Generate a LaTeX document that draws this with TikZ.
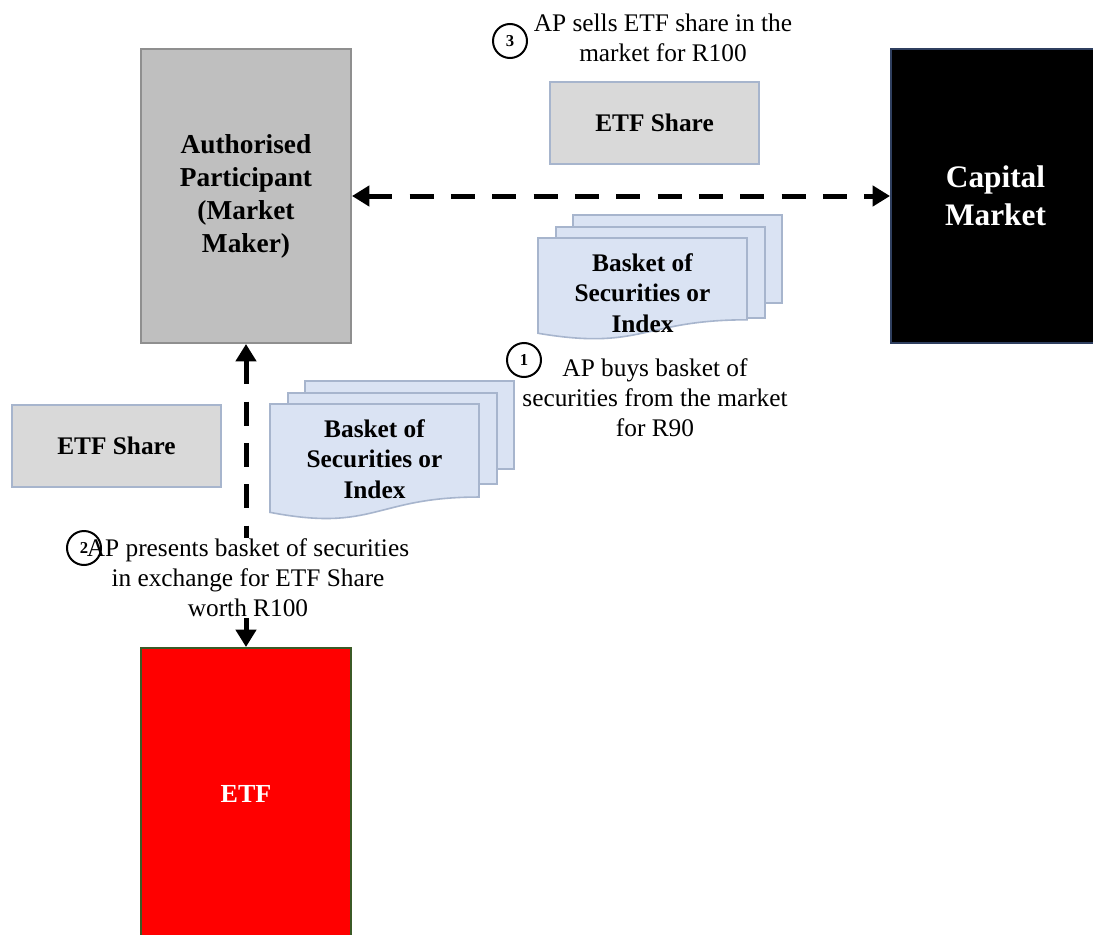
\documentclass[tikz,border=0pt]{standalone}
\usepackage{fontspec}
\setmainfont{Liberation Serif}
\usepackage{xcolor}
\usepackage{tikz}
\usetikzlibrary{arrows.meta}

\definecolor{apgray}{HTML}{BFBFBF}
\definecolor{apedge}{HTML}{8F8F8F}
\definecolor{sharegray}{HTML}{D9D9D9}
\definecolor{sheetblue}{HTML}{DAE3F3}
\definecolor{sheetedge}{HTML}{A7B5CD}
\definecolor{mktedge}{HTML}{2F3F5F}
\definecolor{etfedge}{HTML}{3B5A26}

\tikzset{
  box/.style={draw, line width=1.5pt, align=center, inner sep=0pt,
    font=\bfseries\fontsize{19}{24.75}\selectfont},
  tallbox/.style={box, minimum width=157.5pt, minimum height=220.5pt},
  sharebox/.style={box, fill=sharegray, draw=sheetedge, minimum width=156.75pt, minimum height=61.5pt},
  sheet/.style={draw=sheetedge, fill=sheetblue, line width=1.2pt},
  basketlabel/.style={align=center, font=\bfseries\fontsize{19}{23}\selectfont},
  note/.style={align=center, inner sep=1pt, font=\fontsize{19}{22.5}\selectfont},
  stepno/.style={circle, draw, line width=1.5pt, minimum size=25.5pt, inner sep=0pt,
    font=\bfseries\fontsize{12.5}{12.5}\selectfont},
  flow/.style={line width=3.75pt, dash pattern=on 18pt off 13pt,
    {Triangle[length=13pt,width=15pt]}-{Triangle[length=13pt,width=15pt]}}
}

% three stacked sheets: name, x, y, height of the front sheet
\newcommand{\basket}[4]{%
  \begin{scope}[shift={(#2,#3)}]
    \draw[sheet] (35,-23) rectangle (244,65);
    \draw[sheet] (18,-11) rectangle (227,80);
    \draw[sheet] (0,0) -- (209,0) -- (209,#4*0.802)
      .. controls (104.5,#4*0.802) and (104.5,#4*1.107) .. (0,#4*0.934) -- cycle;
    \node[basketlabel] (#1) at (104.5,55) {Basket of\\Securities or\\Index};
  \end{scope}}

\begin{document}
\begin{tikzpicture}[x=0.75pt, y=-0.75pt]
  \clip (0,0) rectangle (1093,935);
  \fill[white] (0,0) rectangle (1093,935);

  % Main boxes
  \node[tallbox, fill=apgray, draw=apedge, font=\bfseries\fontsize{20.5}{24.75}\selectfont] (ap) at (246,196)
    {Authorised\\Participant\\(Market\\Maker)};
  \node[tallbox, fill=black, draw=mktedge, text=white, minimum width=156.75pt,
    font=\bfseries\fontsize{23.5}{28.5}\selectfont] (capmkt) at (995.5,196) {Capital\\Market};
  \node[tallbox, fill=red, draw=etfedge, text=white, minimum height=219pt,
    font=\bfseries\fontsize{19.5}{24}\selectfont] (etf) at (246,794) {ETF};

  % ETF shares
  \node[sharebox] (shareTop) at (654.5,123) {ETF Share};
  \node[sharebox] (shareLeft) at (116.5,445.5) {ETF Share};

  % Baskets of securities
  \basket{basketTop}{538}{238}{102}
  \basket{basketLow}{270}{404}{116}

  % Flows
  \draw[flow] (ap.east) -- (capmkt.west);
  \draw[flow] (ap.south) -- (etf.north);

  % Step 1
  \node[note] (buyNote) at (655,397.5) {AP buys basket of\\securities from the market\\for R90};
  \node[stepno] (stepOne) at (524,360) {1};

  % Step 2
  \node[note, fill=white] (presentNote) at (248,578)
    {AP presents basket of securities\\in exchange for ETF Share\\worth R100};
  \node[stepno] (stepTwo) at (84,548) {2};

  % Step 3
  \node[note] (sellNote) at (663,37.5) {AP sells ETF share in the\\market for R100};
  \node[stepno] (stepThree) at (510,41) {3};
\end{tikzpicture}
\end{document}
